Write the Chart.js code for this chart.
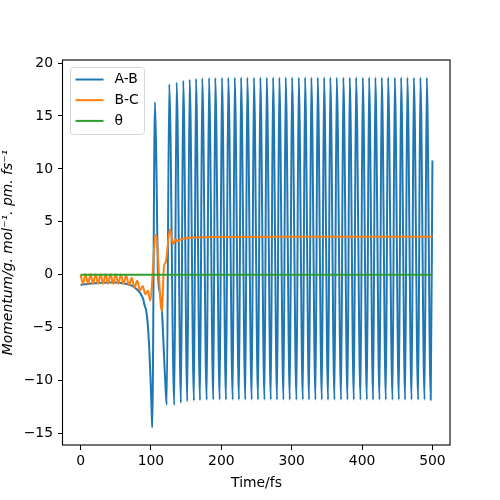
<!DOCTYPE html>
<html>
<head>
<meta charset="utf-8">
<title>Momentum against time</title>
<script src="https://cdn.jsdelivr.net/npm/chart.js@4"></script>
<style>
  html, body { margin: 0; padding: 0; background: #fff; }
  #wrap { width: 500px; height: 500px; }
</style>
</head>
<body>
<div id="wrap"><canvas id="chart" width="500" height="500"></canvas></div>
<script>
// values: time in fs, momentum in g.mol-1.pm.fs-1
const abTime = [
  0, 10, 20, 30, 40, 50, 60, 67, 72, 77, 81, 84, 87, 89, 91, 93, 95, 97.5, 99.5, 101, 101.8,
  105.7, 108, 109.8, 113, 115.6, 118.7, 121, 122.4,
  126.0, 133.1, 136.5, 142.6, 145.9, 151.6, 155.0, 161.1, 164.0, 169.7,
  172.9, 179.2, 182.5, 188.6, 191.4, 197.7, 200.9, 206.6, 209.9, 216.2,
  219.0, 225.1, 228.0, 234.1, 236.9, 243.2, 246.3, 252.2, 255.4, 261.3,
  264.5, 270.3, 273.5, 279.2, 282.4, 288.3, 291.5, 297.3, 300.5, 306.8,
  310.0, 315.8, 319.0, 324.7, 327.9, 333.8, 337.0, 342.8, 346.0, 351.7,
  354.9, 360.8, 364.0, 370.2, 373.4, 379.3, 382.5, 388.3, 391.5, 397.8,
  401.0, 406.8, 410.0, 415.7, 418.9, 424.8, 428.0, 433.8, 437.0, 443.3,
  446.5, 452.3, 455.5, 461.2, 464.4, 470.4, 473.6, 479.7, 482.9, 488.8,
  492.0, 497.6, 500
];
const abMomentum = [
  -0.94, -0.86, -0.8, -0.76, -0.73, -0.74, -0.8, -0.89, -1.0, -1.2, -1.45, -1.67, -2.0, -2.3, -2.9, -3.3, -4.3, -6.8, -10.0, -13.0, -14.43,
  16.3, 9.0, 0.3, -1.8, -3.4, -7.8, -11.0, -12.26,
  18.0, -12.3, 18.17, -12.11, 18.33, -11.95, 18.45, -11.89, 18.52, -11.85,
  18.56, -11.82, 18.6, -11.8, 18.6, -11.8, 18.62, -11.8, 18.62, -11.8,
  18.63, -11.8, 18.63, -11.8, 18.63, -11.8, 18.63, -11.8, 18.63, -11.8,
  18.63, -11.8, 18.63, -11.8, 18.63, -11.8, 18.63, -11.8, 18.63, -11.8,
  18.63, -11.8, 18.63, -11.8, 18.63, -11.8, 18.63, -11.8, 18.63, -11.8,
  18.63, -11.8, 18.63, -11.8, 18.63, -11.8, 18.63, -11.8, 18.63, -11.8,
  18.63, -11.8, 18.63, -11.8, 18.63, -11.8, 18.63, -11.8, 18.63, -11.8,
  18.63, -11.8, 18.63, -11.8, 18.63, -11.8, 18.63, -11.8, 18.63, -11.8,
  18.63, -11.8, 10.8
];

const bcTime = [
  0, 3.5, 7.0, 10.6, 14.1, 17.7, 21.3, 24.8, 28.4, 32.0, 35.5, 39.0, 42.6, 46.3, 50.0, 53.6,
  57.3, 61.0, 64.8, 68.7, 72.7, 76.5, 80.5, 84.4, 88.3, 92.0, 95.9, 98.7,
  107.0, 115.5, 118.5, 121.0, 127.0, 131.7, 135.0, 138.0, 142.6, 148.0, 160.0,
  200, 300, 400, 500
];
const bcMomentum = [
  0.0, -0.85, 0.05, -0.85, 0.05, -0.85, 0.05, -0.85, 0.05, -0.85, 0.05, -0.85, 0.05, -0.85, 0.05, -0.85,
  0.03, -0.88, -0.05, -1.0, -0.27, -1.2, -0.57, -1.5, -1.05, -1.85, -1.5, -2.45,
  3.8, -3.5, 0.8, 1.2, 4.3, 2.9, 3.35, 3.15, 3.35, 3.42, 3.52,
  3.58, 3.6, 3.6, 3.6
];

const thetaTime = [0, 100, 200, 300, 400, 500];
const thetaMomentum = [0, 0, 0, 0, 0, 0];

const xTicks = [0, 100, 200, 300, 400, 500];
const yTicks = [-15, -10, -5, 0, 5, 10, 15, 20];

const toPoints = (xs, ys) => xs.map((x, i) => ({ x: x, y: ys[i] }));
const minusSign = v => (v < 0 ? '\u2212' + Math.abs(v) : String(v));

Chart.defaults.font.family = '"DejaVu Sans", sans-serif';
Chart.defaults.font.size = 13.9;
Chart.defaults.color = '#000';

// matplotlib style box round the axes, drawn over the lines
const framePlugin = {
  id: 'frame',
  afterDatasetsDraw(chart) {
    const { ctx, chartArea: a } = chart;
    ctx.save();
    ctx.strokeStyle = '#000';
    ctx.lineWidth = 1.1;
    ctx.strokeRect(a.left - 0.5, a.top, a.right - a.left + 0.5, a.bottom - a.top);
    ctx.restore();
  }
};

// legend in the upper left corner, inside the axes
const legendPlugin = {
  id: 'innerLegend',
  afterDraw(chart) {
    const { ctx, chartArea: a } = chart;
    const x0 = a.left + 7, y0 = a.top + 7, w = 74, h = 67, r = 3;
    ctx.save();
    ctx.beginPath();
    ctx.roundRect(x0 + 0.5, y0 + 0.5, w, h, r);
    ctx.fillStyle = 'rgba(255,255,255,0.8)';
    ctx.fill();
    ctx.strokeStyle = '#d6d6d6';
    ctx.lineWidth = 1;
    ctx.stroke();
    ctx.font = '13.9px "DejaVu Sans", sans-serif';
    ctx.textBaseline = 'middle';
    chart.data.datasets.forEach((ds, i) => {
      const yy = y0 + 12.5 + i * 20.7;
      ctx.beginPath();
      ctx.moveTo(x0 + 5.5, yy);
      ctx.lineTo(x0 + 33.5, yy);
      ctx.strokeStyle = ds.borderColor;
      ctx.lineWidth = 2;
      ctx.stroke();
      ctx.fillStyle = '#000';
      ctx.fillText(ds.label, x0 + 44.5, yy);
    });
    ctx.restore();
  }
};

new Chart(document.getElementById('chart'), {
  type: 'line',
  data: {
    datasets: [
      {
        label: 'A-B',
        data: toPoints(abTime, abMomentum),
        borderColor: '#1f77b4',
        borderWidth: 2,
        pointRadius: 0,
        fill: false,
        cubicInterpolationMode: 'monotone',
        order: 3
      },
      {
        label: 'B-C',
        data: toPoints(bcTime, bcMomentum),
        borderColor: '#ff7f0e',
        borderWidth: 2,
        pointRadius: 0,
        fill: false,
        cubicInterpolationMode: 'monotone',
        order: 2
      },
      {
        label: 'θ',
        data: toPoints(thetaTime, thetaMomentum),
        borderColor: '#2ca02c',
        borderWidth: 2,
        pointRadius: 0,
        fill: false,
        order: 1
      }
    ]
  },
  options: {
    responsive: false,
    animation: false,
    devicePixelRatio: 1,
    layout: { padding: { left: 0, top: 60, right: 50, bottom: 0 } },
    plugins: { legend: { display: false }, tooltip: { enabled: false } },
    scales: {
      x: {
        type: 'linear',
        min: -25,
        max: 525,
        afterBuildTicks: s => { s.ticks = xTicks.map(v => ({ value: v })); },
        afterFit: s => { s.height = 55; },
        grid: { drawOnChartArea: false, drawTicks: true, tickLength: 5, color: '#000', lineWidth: 1 },
        border: { display: false },
        ticks: { padding: 3, maxRotation: 0, autoSkip: false, callback: v => minusSign(v) },
        title: { display: true, text: 'Time/fs', padding: { top: 0, bottom: 8 } }
      },
      y: {
        type: 'linear',
        min: -16.08,
        max: 20.29,
        afterBuildTicks: s => { s.ticks = yTicks.map(v => ({ value: v })); },
        afterFit: s => { s.width = 63; },
        grid: { drawOnChartArea: false, drawTicks: true, tickLength: 5, color: '#000', lineWidth: 1 },
        border: { display: false },
        ticks: { padding: 5, autoSkip: false, callback: v => minusSign(v) },
        title: {
          display: true,
          text: 'Momentum/g. mol⁻¹. pm. fs⁻¹',
          font: { style: 'italic', size: 13.9 },
          padding: { top: 0, bottom: 0 }
        }
      }
    }
  },
  plugins: [framePlugin, legendPlugin]
});
</script>
</body>
</html>
